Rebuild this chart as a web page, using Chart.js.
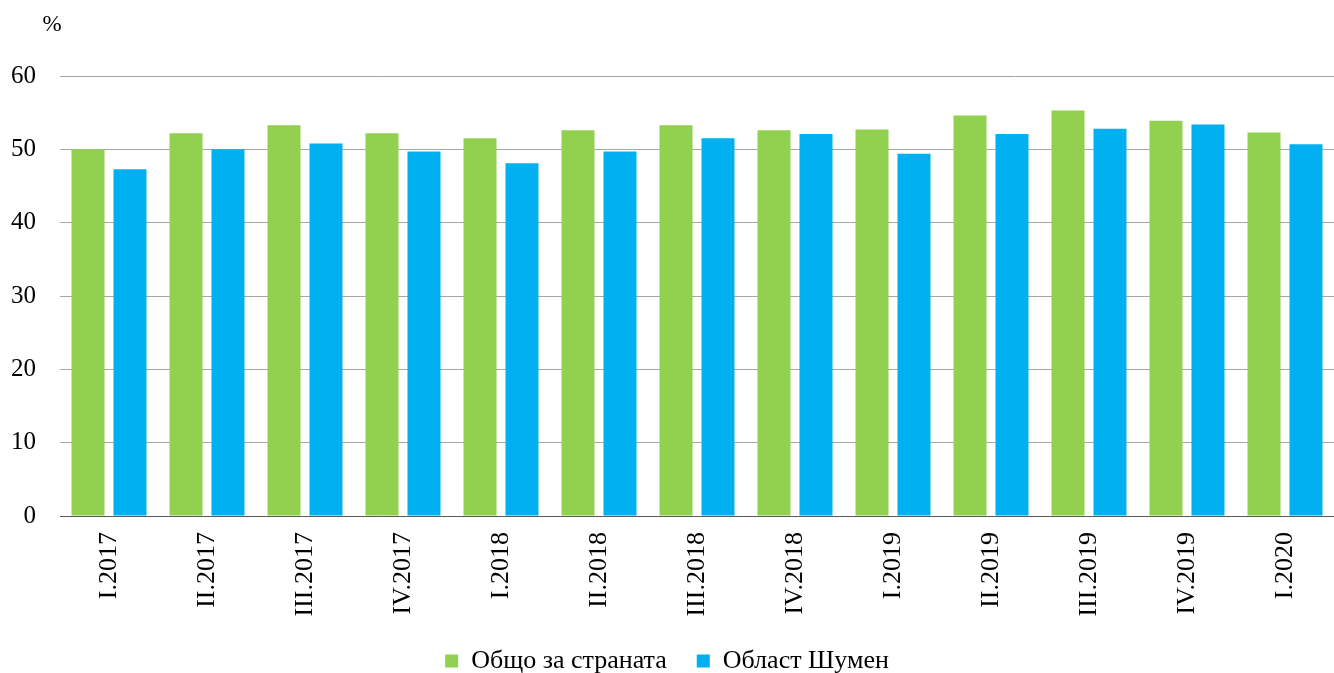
<!DOCTYPE html>
<html>
<head>
<meta charset="utf-8">
<script src="https://cdn.jsdelivr.net/npm/chart.js@4"></script>
<style>
  html, body { margin: 0; padding: 0; background: #fff; }
  #wrap { width: 1334px; height: 673px; }
</style>
</head>
<body>
<div id="wrap"><canvas id="chart"></canvas></div>
<script>
const quarters = ["I.2017", "II.2017", "III.2017", "IV.2017", "I.2018", "II.2018", "III.2018", "IV.2018", "I.2019", "II.2019", "III.2019", "IV.2019", "I.2020"]
const countryValues = [50.0, 52.2, 53.3, 52.2, 51.5, 52.6, 53.3, 52.6, 52.7, 54.6, 55.3, 53.9, 52.3]
const shumenValues = [47.3, 50.0, 50.8, 49.7, 48.1, 49.7, 51.5, 52.1, 49.4, 52.1, 52.8, 53.4, 50.7]
const yTicks = [0, 10, 20, 30, 40, 50, 60]

const serif = "'Liberation Serif', 'Times New Roman', serif"

// "%" above the y axis, and legend nudged into place
const extras = {
  id: "extras",
  afterLayout(chart) {
    chart.legend.top -= 8
    chart.legend.bottom -= 8
  },
  afterDraw(chart) {
    const ctx = chart.ctx
    ctx.save()
    ctx.font = `23px ${serif}`
    ctx.fillStyle = "#000"
    ctx.textAlign = "center"
    ctx.textBaseline = "middle"
    ctx.fillText("%", 52, 25)
    ctx.restore()
  }
}

new Chart(document.querySelector("#chart"), {
  type: "bar",
  data: {
    labels: quarters,
    datasets: [
      {
        label: "Общо за страната",
        data: countryValues,
        backgroundColor: "#92D050",
        borderWidth: 0,
      },
      {
        label: "Област Шумен",
        data: shumenValues,
        backgroundColor: "#00B0F0",
        borderWidth: 0,
      },
    ]
  },
  options: {
    responsive: true,
    maintainAspectRatio: false,
    animation: false,
    layout: { padding: { top: 76, right: 0, left: 0, bottom: -19 } },
    datasets: { bar: { categoryPercentage: 0.857, barPercentage: 0.786 } },
    plugins: {
      legend: {
        position: "bottom",
        labels: {
          font: { family: serif, size: 26 },
          color: "#000",
          boxWidth: 13,
          boxHeight: 13,
          padding: 30,
        }
      },
      tooltip: { enabled: false },
    },
    scales: {
      x: {
        grid: { display: false },
        border: { display: true, color: "#595959", width: 1 },
        ticks: {
          font: { family: serif, size: 26 },
          color: "#000",
          minRotation: 90,
          maxRotation: 90,
          padding: 8,
        },
        afterFit: s => { s.height = 110 }
      },
      y: {
        min: 0,
        max: 60,
        afterBuildTicks: s => { s.ticks = yTicks.map(v => ({ value: v })) },
        grid: { color: "#a6a6a6", drawTicks: false },
        border: { display: false },
        ticks: {
          font: { family: serif, size: 25 },
          color: "#000",
          padding: 24,
        },
        afterFit: s => { s.width = 60 }
      }
    }
  },
  plugins: [extras]
});
</script>
</body>
</html>
